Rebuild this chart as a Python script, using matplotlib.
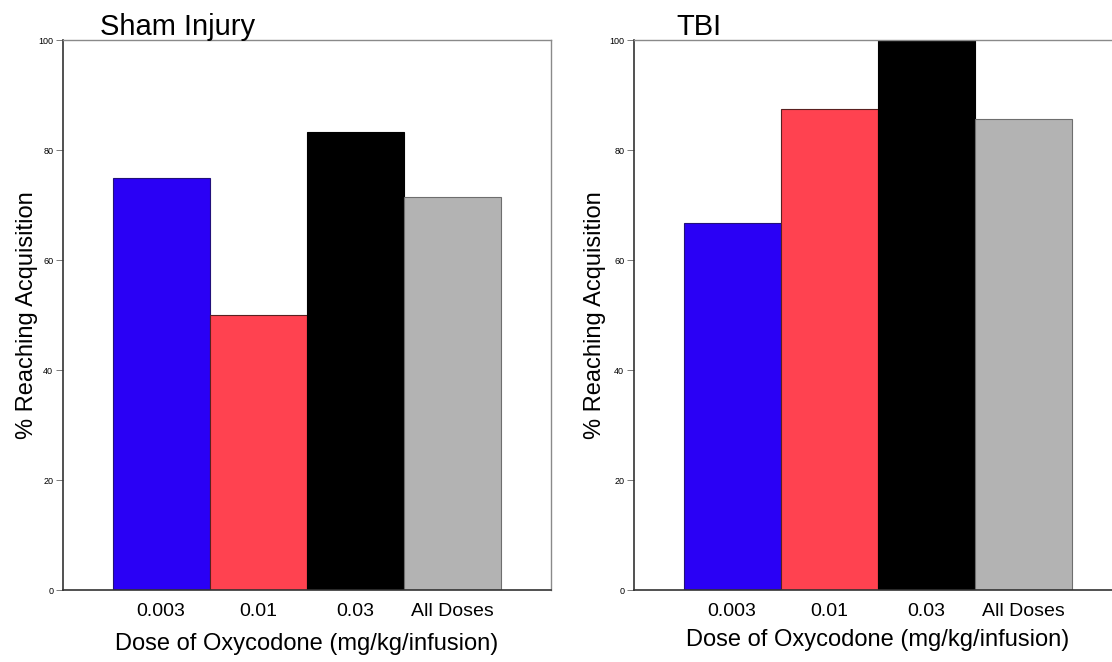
import matplotlib
matplotlib.use("Agg")
import matplotlib.pyplot as plt

categories = ["0.003", "0.01", "0.03", "All Doses"]
sham_values = [75.0, 50.0, 83.3, 71.4]
tbi_values = [66.7, 87.5, 100.0, 85.7]
panel_titles = ["Sham Injury", "TBI"]
yticks = [0, 20, 40, 60, 80, 100]
bar_colors = ["#2a00f5", "#ff4250", "#000000", "#b3b3b3"]
edge_colors = ["#22117a", "#5a2020", "#000000", "#6e6e6e"]

plt.rcParams['font.family'] = ['Liberation Sans', 'DejaVu Sans']

W, H = 1112, 662
fig = plt.figure(figsize=(W / 100, H / 100), dpi=100)

ax_w = 488 / W
ax_h = 550 / H
ax_b = (H - 590) / H
lefts = [63 / W, 634 / W]
ylabel_x = [27 / W, 595 / W]
title_x = [0.076, 0.086]

for i, vals in enumerate([sham_values, tbi_values]):
    ax = fig.add_axes([lefts[i], ax_b, ax_w, ax_h])
    x = list(range(len(categories)))
    ax.bar(x, vals, width=1.0, color=bar_colors, edgecolor=edge_colors,
           linewidth=0.8, zorder=2)
    ax.set_xlim(-0.5 - 0.51, len(categories) - 0.5 + 0.51)
    ax.set_ylim(0, 100)
    ax.set_yticks(yticks)
    ax.set_yticklabels([str(t) for t in yticks], fontsize=6.5)
    ax.tick_params(axis='y', length=5, width=0.6, color='#666666', pad=2)
    ax.set_xticks(x)
    ax.set_xticklabels(categories, fontsize=14)
    ax.tick_params(axis='x', length=0, pad=9)
    ax.set_xlabel("Dose of Oxycodone (mg/kg/infusion)", fontsize=17,
                  labelpad=10 if i == 0 else 7)
    for s in ['left', 'bottom']:
        ax.spines[s].set_color('#333333')
        ax.spines[s].set_linewidth(1.2)
    for s in ['top', 'right']:
        ax.spines[s].set_color('#8a8a8a')
        ax.spines[s].set_linewidth(1.0)
    ax.text(title_x[i], 1.0 + 5 / 550, panel_titles[i], transform=ax.transAxes,
            fontsize=21, ha='left', va='baseline')
    fig.text(ylabel_x[i], ax_b + ax_h / 2, "% Reaching Acquisition",
             rotation=90, ha='center', va='center', fontsize=17)

fig.savefig("out.png", dpi=100)
